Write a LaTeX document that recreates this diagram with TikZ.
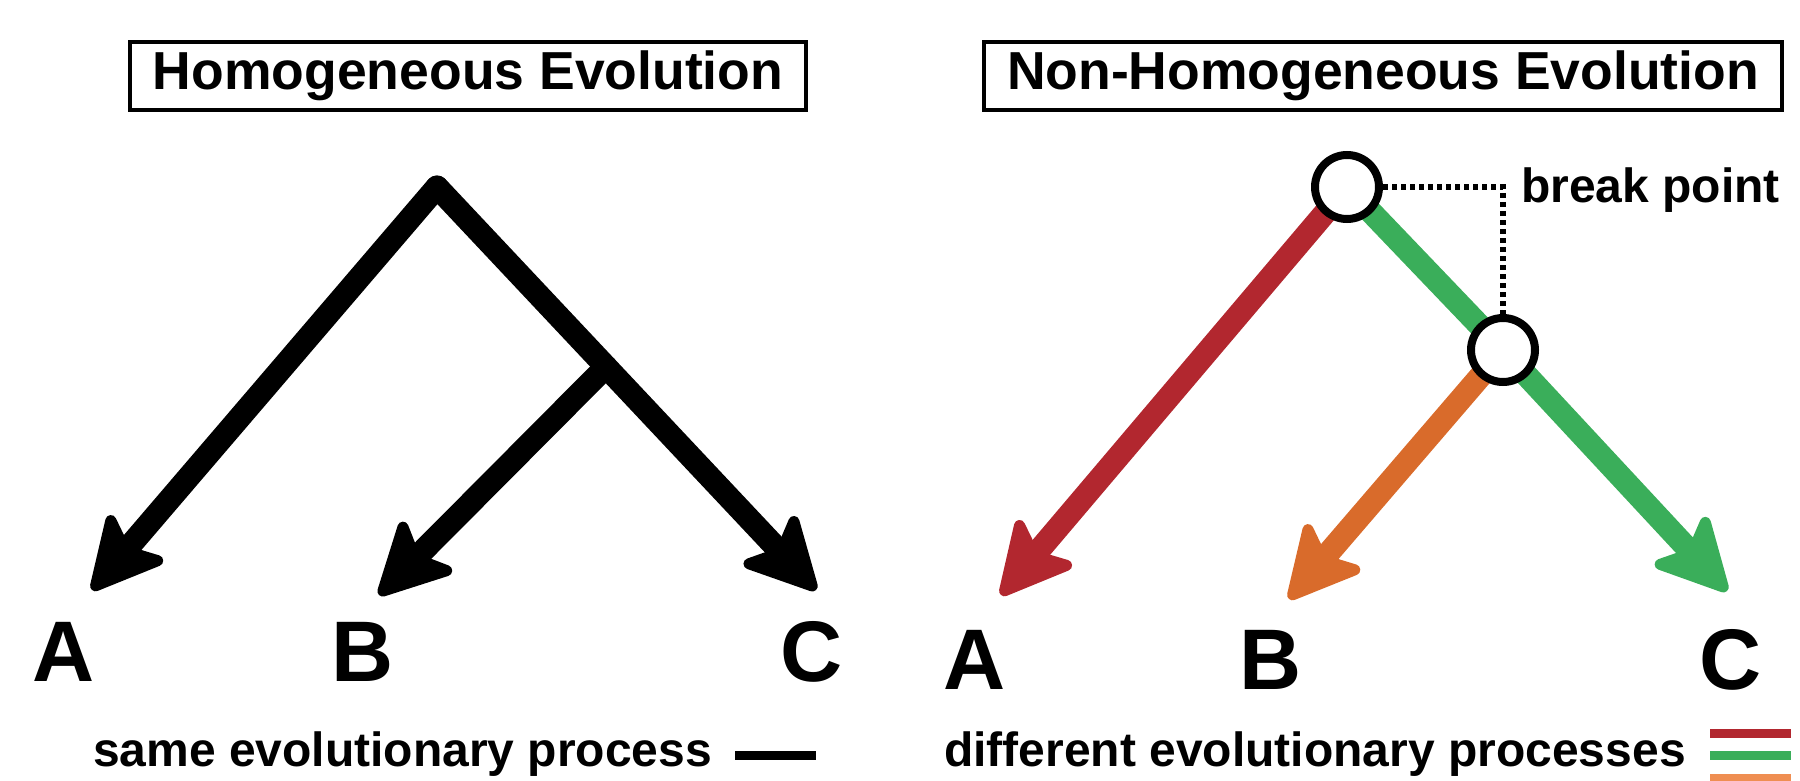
\documentclass[tikz,border=0pt]{standalone}
\usepackage{fontspec}
\setmainfont{Liberation Sans}
\usetikzlibrary{arrows.meta,calc,backgrounds}
\definecolor{bred}{HTML}{B2272F}
\definecolor{bgreen}{HTML}{3AAE5A}
\definecolor{borange}{HTML}{D96B2B}
\definecolor{lorange}{HTML}{EF8E52}
\begin{document}
\begin{tikzpicture}[x=1pt,y=-1pt,
  branch/.style={line width=23pt, line cap=round,
    -{Stealth[length=82pt, width=84pt, inset=18pt, round, line width=11pt]}},
  titlebox/.style={draw, line width=4pt, inner sep=0pt, font=\fontsize{53.5}{60}\selectfont\bfseries},
  leaf/.style={inner sep=0pt, anchor=base, font=\fontsize{86}{90}\selectfont\bfseries},
  legtext/.style={inner sep=0pt, anchor=base west, font=\fontsize{48}{54}\selectfont\bfseries},
  bpt/.style={circle, draw, line width=8pt, fill=white, minimum size=64pt, inner sep=0pt},
  dots/.style={line width=6pt, dash pattern=on 5pt off 4pt},
  swatch/.style={line width=9.5pt}]
\useasboundingbox (0,0) rectangle (1800,781);

% ---------- left panel ----------
\node[titlebox, minimum width=676pt, minimum height=68pt] (t1) at (468,76) {Homogeneous Evolution};

\coordinate (top) at (437,187);
\coordinate (tA) at (92,590);
\coordinate (tB) at (379,595);
\coordinate (tC) at (816,590);
\coordinate (m) at ($(top)!0.446!(tC)$);

\draw[branch] (m) -- (tB);
\draw[branch] (top) -- (tA);
\draw[branch] (top) -- (tC);

\node[leaf] (lA) at (64,681) {A};
\node[leaf] (lB) at (363,681) {B};
\node[leaf] (lC) at (812,681) {C};

\node[legtext] (leg1) at (93,766) {same evolutionary process};
\coordinate (s1a) at (735,755.5);
\coordinate (s1b) at (816,755.5);
\draw[swatch] (s1a) -- (s1b);

% ---------- right panel ----------
\node[titlebox, minimum width=798pt, minimum height=68pt] (t2) at (1383,76) {Non-Homogeneous Evolution};

\node[bpt] (n1) at (1347,187) {};
\node[bpt] (n2) at (1503,350) {};
\coordinate (rA) at (1001,595);
\coordinate (rB) at (1289,599);
\coordinate (rC) at (1727,591);

\begin{scope}[on background layer]
\draw[branch, bred] (n1.center) -- (rA);
\draw[branch, bgreen, -] (n1.center) -- (n2.center);
\draw[branch, bgreen] (n2.center) -- (rC);
\draw[branch, borange] (n2.center) -- (rB);
\end{scope}

\node[inner sep=0pt, anchor=base west, font=\fontsize{48}{54}\selectfont\bfseries] (bp) at (1521,202) {break point};
\draw[dots] (n1.east) -| (n2.north);

\node[leaf] (rlA) at (975,689) {A};
\node[leaf] (rlB) at (1271,689) {B};
\node[leaf] (rlC) at (1731,689) {C};

\node[legtext] (leg2) at (944,766) {different evolutionary processes};
\coordinate (s2a) at (1710,733.5);
\coordinate (s2b) at (1791,733.5);
\coordinate (s3a) at (1710,755.5);
\coordinate (s3b) at (1791,755.5);
\coordinate (s4a) at (1710,778.5);
\coordinate (s4b) at (1791,778.5);
\draw[swatch, bred] (s2a) -- (s2b);
\draw[swatch, bgreen] (s3a) -- (s3b);
\draw[swatch, lorange] (s4a) -- (s4b);
\end{tikzpicture}
\end{document}
